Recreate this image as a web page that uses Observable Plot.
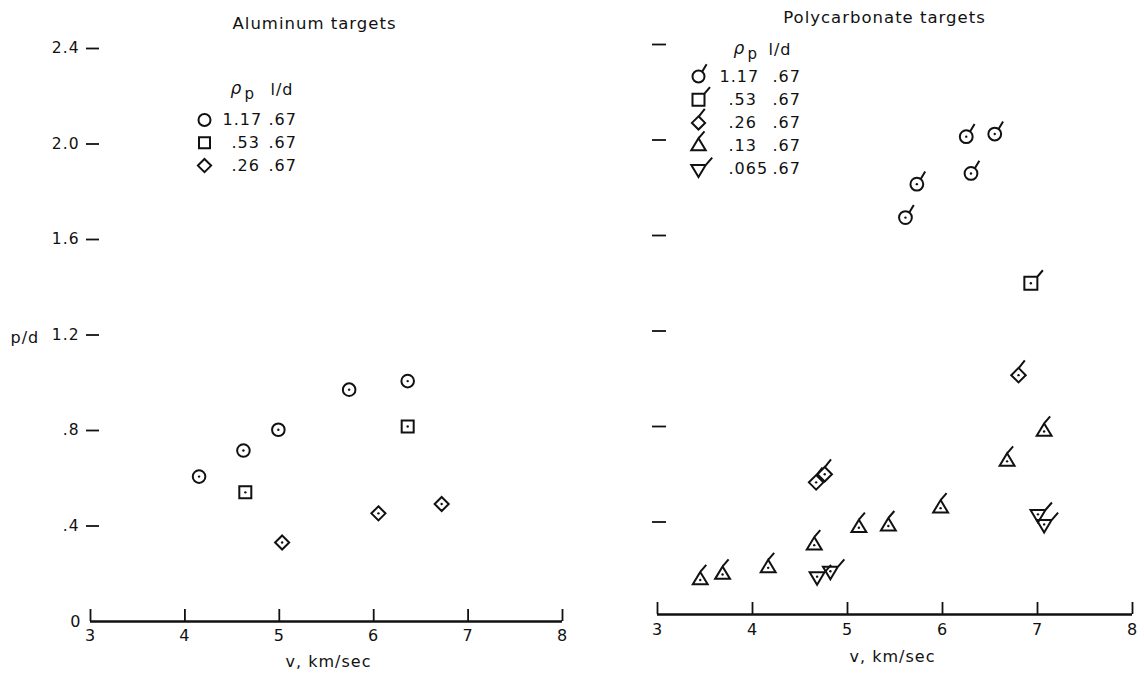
<!DOCTYPE html>
<html><head><meta charset="utf-8">
<script src="https://cdn.jsdelivr.net/npm/d3@7"></script>
<script src="https://cdn.jsdelivr.net/npm/@observablehq/plot@0.6"></script>
<style>
html,body{margin:0;padding:0;background:#fff;}
#wrap{position:relative;width:1144px;height:677px;overflow:hidden;background:#fff;}
#left{position:absolute;left:0;top:0;}
#right{position:absolute;left:600px;top:0;}
</style></head><body>
<div id="wrap"><div id="left"></div><div id="right"></div></div>
<script>
// ---------- data ----------
const xTicks = [3, 4, 5, 6, 7, 8];
const yTicks = [0.4, 0.8, 1.2, 1.6, 2.0, 2.4];
const titleAl = "Aluminum targets";
const titlePc = "Polycarbonate targets";
const xLabel = "v, km/sec";
const yLabel = "p/d";
const rhoLabel = "ρ", rhoSub = "p", ldLabel = "l/d";

// Aluminum targets
const alCircleV = [4.15, 4.62, 4.99, 5.74, 6.36];
const alCircleP = [0.607, 0.716, 0.803, 0.971, 1.007];
const alSquareV = [4.64, 6.36];
const alSquareP = [0.541, 0.817];
const alDiamondV = [5.03, 6.05, 6.72];
const alDiamondP = [0.331, 0.453, 0.492];
const alLegendRho = ["1.17", ".53", ".26"];
const alLegendLD = [".67", ".67", ".67"];

// Polycarbonate targets
const pcCircleV = [5.61, 5.73, 6.25, 6.30, 6.55];
const pcCircleP = [1.675, 1.815, 2.014, 1.86, 2.025];
const pcSquareV = [6.93];
const pcSquareP = [1.40];
const pcDiamondV = [4.67, 4.76, 6.80];
const pcDiamondP = [0.566, 0.60, 1.015];
const pcTriV = [3.45, 3.685, 4.165, 4.65, 5.12, 5.43, 5.98, 6.68, 7.07];
const pcTriP = [0.157, 0.18, 0.208, 0.303, 0.376, 0.383, 0.458, 0.654, 0.779];
const pcInvV = [4.68, 4.82, 7.005, 7.07];
const pcInvP = [0.171, 0.194, 0.432, 0.39];
const pcLegendRho = ["1.17", ".53", ".26", ".13", ".065"];
const pcLegendLD = [".67", ".67", ".67", ".67", ".67"];

// ---------- symbols ----------
function sym(kind, flag) {
  return {draw(ctx, size) {
    const r = Math.sqrt(size / Math.PI);
    let fx = 0, fy = 0, vx = 6, vy = -7;
    if (kind === "circle") {
      ctx.moveTo(r, 0); ctx.arc(0, 0, r, 0, 2 * Math.PI);
      fx = r * 0.6; fy = -r * 0.8; vx = 4.5; vy = -7.5;
    } else if (kind === "square") {
      ctx.moveTo(-r, -r); ctx.lineTo(r, -r); ctx.lineTo(r, r); ctx.lineTo(-r, r); ctx.closePath();
      fx = r; fy = -r; vx = 5.5; vy = -6.5;
    } else if (kind === "diamond") {
      const d = r * 1.1;
      ctx.moveTo(0, -d); ctx.lineTo(d, 0); ctx.lineTo(0, d); ctx.lineTo(-d, 0); ctx.closePath();
      fx = 0.8; fy = -d - 0.5; vx = 5.5; vy = -7;
    } else if (kind === "triangle") {
      const w = r * 1.2, t = -r * 1.3, b = r * 0.7;
      ctx.moveTo(0, t); ctx.lineTo(w, b); ctx.lineTo(-w, b); ctx.closePath();
      fx = 0; fy = t; vx = 6; vy = -7;
    } else if (kind === "triangleDown") {
      const w = r * 1.2, t = r * 1.3, b = -r * 0.7;
      ctx.moveTo(0, t); ctx.lineTo(w, b); ctx.lineTo(-w, b); ctx.closePath();
      fx = w; fy = b; vx = 6.5; vy = -7.5;
    }
    if (flag) { ctx.moveTo(fx, fy); ctx.lineTo(fx + vx, fy + vy); }
  }};
}

const fmt = d => d === 0 ? "0" : (d < 1 ? d.toFixed(1).replace(/^0/, "") : d.toFixed(1));
const ink = "#111";
const sw = 2;

function seriesMarks(series, flag) {
  const m = [];
  for (const s of series) {
    const data = s.v.map((v, i) => ({v, p: s.p[i]}));
    m.push(Plot.dot(data, {x: "v", y: "p", r: s.r, symbol: sym(s.kind, flag), fill: "none", stroke: ink, strokeWidth: sw}));
    m.push(Plot.dot(data, {x: "v", y: "p", r: 1.2, fill: ink, stroke: "none"}));
  }
  return m;
}

function legendMarks(cfg) {
  const m = [];
  const base = {frameAnchor: "top-left", textAnchor: "start", lineAnchor: "middle", fill: ink, text: d => d};
  m.push(Plot.text([rhoLabel], {...base, dx: cfg.rhoDx, dy: cfg.headDy, fontSize: 17, fontStyle: "italic"}));
  m.push(Plot.text([rhoSub], {...base, dx: cfg.rhoDx + 14, dy: cfg.headDy + 6, fontSize: 15}));
  m.push(Plot.text([ldLabel], {...base, dx: cfg.ldDx, dy: cfg.headDy + 1, fontSize: 16}));
  cfg.rho.forEach((t, i) => {
    const dy = cfg.rowDy + i * cfg.step;
    m.push(Plot.dot([t], {frameAnchor: "top-left", dx: cfg.symDx, dy, symbol: sym(cfg.kinds[i], cfg.flag), r: cfg.r[i], fill: "none", stroke: ink, strokeWidth: sw}));
    m.push(Plot.text([t], {...base, dx: t.startsWith(".") ? cfg.c1Dx : cfg.c1Dx - 9, dy, fontSize: 16}));
    m.push(Plot.text([cfg.ld[i]], {...base, dx: cfg.c2Dx, dy, fontSize: 16}));
  });
  return m;
}

function panel(o) {
  const H = o.height - o.mT - o.mB;
  const marks = [
    Plot.ruleY([0], {stroke: ink, strokeWidth: 2.4, dy: o.axisDy}),
    Plot.tickX(xTicks, {x: d => d, insetTop: H - 12, dy: o.axisDy, stroke: ink, strokeWidth: 1.8}),
    Plot.axisX({ticks: xTicks, tickSize: 0, tickPadding: o.xPad, tickFormat: d => String(d), fontSize: 16, fill: ink, label: null}),
    o.yLabels
      ? Plot.axisY({ticks: yTicks, tickSize: 13, dx: 9, tickPadding: 7, tickFormat: fmt, stroke: ink, fill: ink, strokeWidth: 1.8, fontSize: 15.5, label: null})
      : Plot.axisY({ticks: yTicks, tickSize: 14, dx: 9, stroke: ink, fill: "none", strokeWidth: 1.8, label: null}),
    Plot.text([o.title], {frameAnchor: "top", dx: o.titleDx, dy: o.titleDy, lineAnchor: "middle", fontSize: 16.5, fill: ink, text: d => d}),
    Plot.text([xLabel], {frameAnchor: "bottom", dx: o.xlDx, dy: o.xlDy, lineAnchor: "middle", fontSize: 16, fill: ink, text: d => d}),
    ...seriesMarks(o.series, o.flag),
    ...legendMarks(o.legend)
  ];
  if (o.yLabels) {
    marks.push(Plot.axisY({ticks: [0], tickSize: 0, tickPadding: 9, tickFormat: fmt, fill: ink, fontSize: 16, label: null}));
    marks.push(Plot.text([yLabel], {frameAnchor: "left", dx: -80, dy: 3, textAnchor: "start", lineAnchor: "middle", fontSize: 16, fill: ink, text: d => d}));
  }
  return Plot.plot({
    width: o.width, height: o.height,
    marginLeft: o.mL, marginRight: o.mR, marginTop: o.mT, marginBottom: o.mB,
    x: {domain: [3, 8]}, y: {domain: [0, 2.4]},
    style: {fontFamily: "DejaVu Sans", fontSize: "15px", color: ink, background: "transparent", overflow: "visible", letterSpacing: "1px"},
    marks
  });
}

document.getElementById("left").append(panel({
  width: 600, height: 677, mL: 90, mR: 38, mT: 48, mB: 56, axisDy: 0, xPad: 8.5,
  yLabels: true, flag: false, title: titleAl, titleDx: -12, titleDy: -24.5, xlDx: 2, xlDy: 40,
  series: [
    {v: alCircleV, p: alCircleP, kind: "circle", r: 6.3},
    {v: alSquareV, p: alSquareP, kind: "square", r: 6},
    {v: alDiamondV, p: alDiamondP, kind: "diamond", r: 6.4}
  ],
  legend: {rho: alLegendRho, ld: alLegendLD, kinds: ["circle", "square", "diamond"], r: [6, 5.5, 6], flag: false,
    rhoDx: 140, ldDx: 180, headDy: 40, rowDy: 71.5, step: 22.8, symDx: 114, c1Dx: 141, c2Dx: 178}
}));

document.getElementById("right").append(panel({
  width: 544, height: 677, mL: 57, mR: 12, mT: 44, mB: 60, axisDy: -3, xPad: 6,
  yLabels: false, flag: true, title: titlePc, titleDx: -10.5, titleDy: -26.5, xlDx: -2.5, xlDy: 39,
  series: [
    {v: pcCircleV, p: pcCircleP, kind: "circle", r: 6.4},
    {v: pcSquareV, p: pcSquareP, kind: "square", r: 6.5},
    {v: pcDiamondV, p: pcDiamondP, kind: "diamond", r: 6.6},
    {v: pcTriV, p: pcTriP, kind: "triangle", r: 6.2},
    {v: pcInvV, p: pcInvP, kind: "triangleDown", r: 6.2}
  ],
  legend: {rho: pcLegendRho, ld: pcLegendLD, kinds: ["circle", "square", "diamond", "triangle", "triangleDown"], r: [6, 6, 6, 6, 6], flag: true,
    rhoDx: 76, ldDx: 111, headDy: 4, rowDy: 32, step: 23.2, symDx: 41, c1Dx: 71, c2Dx: 115}
}));
</script>
</body></html>
